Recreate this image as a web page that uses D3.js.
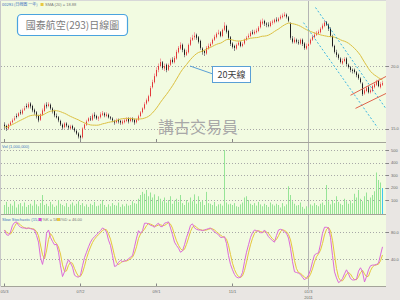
<!DOCTYPE html>
<html>
<head>
<meta charset="utf-8">
<script src="https://cdn.jsdelivr.net/npm/d3@7"></script>
<style>
  html, body { margin: 0; padding: 0; background: #e9e6e3; }
  svg { display: block; font-family: "Liberation Sans", Arial, sans-serif; }
</style>
</head>
<body>
<svg id="chart" width="400" height="300"></svg>
<script>
// daily bars, oldest first (price in HK$)
const opens = [
  15.3,15.2,15.0,15.3,15.5,15.7,16.0,16.0,16.3,16.2, 16.5,16.8,16.7,17.0,16.8,16.5,16.3,16.0,15.7,16.1,
  16.4,16.9,16.8,16.9,16.6,16.4,16.0,15.9,15.6,15.3, 15.1,15.4,15.2,15.0,15.2,15.0,14.8,14.6,14.4,14.3,
  15.0,15.3,15.6,15.8,15.7,16.1,16.0,15.8,15.9,16.1, 16.2,16.0,16.1,15.9,15.8,15.6,15.5,15.7,15.6,15.4,
  15.5,15.6,15.8,15.6,15.8,15.7,15.5,15.7,16.0,16.3, 16.6,17.0,17.2,17.6,18.3,18.7,19.2,19.7,20.0,20.3,
  19.8,20.1,19.7,20.1,20.5,20.3,20.6,21.1,21.4,21.7, 21.3,20.9,21.1,21.7,22.1,22.3,22.5,22.3,22.0,21.4,
  21.2,21.0,21.4,21.6,21.8,22.1,22.3,22.6,22.7,22.4, 22.9,23.2,22.8,22.3,21.8,21.6,21.4,21.7,21.9,21.6,
  21.8,22.1,22.3,22.4,22.7,22.6,22.7,22.8,23.1,23.4, 23.6,23.4,23.3,23.2,23.5,23.5,23.7,23.6,23.8,23.9,
  24.0,24.1,23.9,23.4,22.2,21.9,22.1,21.9,21.8,22.1, 21.8,21.4,21.6,21.8,22.1,22.3,22.5,22.6,22.7,23.0,
  23.2,23.5,23.3,23.0,22.4,21.6,21.1,20.9,20.6,20.2, 20.4,20.6,20.1,19.9,19.7,19.7,19.5,19.3,19.0,18.6,
  17.8,18.0,18.3,17.9,18.0,18.3,18.5,18.8,18.3,18.5
];
const highs = [
  15.5,15.3,15.4,15.6,15.8,16.0,16.2,16.3,16.5,16.6, 16.8,17.0,17.1,17.1,16.9,16.6,16.4,16.1,16.2,16.6,
  17.0,17.1,17.1,17.0,16.7,16.5,16.2,16.0,15.7,15.4, 15.5,15.5,15.3,15.3,15.3,15.1,14.9,14.7,14.5,15.1,
  15.4,15.7,15.9,16.0,16.2,16.3,16.1,16.0,16.3,16.4, 16.3,16.3,16.2,16.0,15.9,15.7,15.8,15.8,15.7,15.7,
  15.8,15.9,15.9,15.9,15.9,15.8,15.8,16.1,16.4,16.7, 17.1,17.4,17.7,18.4,18.9,19.4,19.9,20.2,20.6,20.4,
  20.2,20.2,20.2,20.6,20.7,20.8,21.3,21.6,21.9,21.8, 21.4,21.3,21.8,22.3,22.5,22.7,22.6,22.4,22.1,21.5,
  21.3,21.6,21.8,21.9,22.2,22.5,22.7,22.9,22.8,23.0, 23.5,23.3,22.9,22.4,21.9,21.7,21.8,22.0,22.0,21.9,
  22.2,22.4,22.6,22.8,22.9,22.9,23.0,23.2,23.7,23.8, 23.7,23.5,23.5,23.6,23.7,23.8,23.9,23.9,24.1,24.2,
  24.3,24.2,24.0,23.5,22.4,22.3,22.2,22.1,22.2,22.2, 21.9,21.8,21.9,22.2,22.5,22.7,22.8,22.9,23.1,23.4,
  23.7,23.6,23.4,23.1,22.5,21.7,21.3,21.0,20.7,20.6, 20.7,20.7,20.2,20.0,19.8,19.8,19.6,19.4,19.1,18.7,
  18.2,18.4,18.4,18.2,18.5,18.7,18.9,18.9,18.7,18.8
];
const lows = [
  14.9,14.8,14.9,15.2,15.4,15.6,15.8,15.9,16.1,16.1, 16.4,16.6,16.6,16.6,16.3,16.1,15.8,15.5,15.6,16.0,
  16.3,16.6,16.7,16.5,16.2,15.9,15.8,15.5,15.2,14.9, 15.0,15.1,14.9,14.9,14.9,14.7,14.5,14.2,14.0,14.2,
  14.9,15.2,15.5,15.6,15.6,15.8,15.7,15.6,15.8,16.0, 15.9,15.9,15.8,15.7,15.5,15.3,15.4,15.4,15.3,15.3,
  15.4,15.5,15.4,15.5,15.5,15.3,15.4,15.6,15.9,16.2, 16.5,16.9,17.1,17.5,18.2,18.6,19.1,19.5,19.9,19.7,
  19.6,19.5,19.6,20.0,20.2,20.2,20.5,21.0,21.3,21.1, 20.7,20.8,21.0,21.6,22.0,22.1,22.1,21.8,21.3,20.9,
  20.8,20.9,21.3,21.5,21.7,22.0,22.2,22.5,22.3,22.3, 22.8,22.6,22.1,21.6,21.4,21.2,21.3,21.6,21.5,21.5,
  21.7,22.0,22.2,22.3,22.5,22.5,22.6,22.7,23.0,23.3, 23.2,23.1,23.1,23.1,23.3,23.4,23.5,23.5,23.7,23.8,
  23.9,23.8,23.5,22.1,21.8,21.8,21.8,21.7,21.7,21.6, 21.3,21.3,21.5,21.7,22.0,22.2,22.4,22.5,22.6,22.9,
  23.1,23.2,22.8,22.3,21.5,21.0,20.7,20.5,20.2,20.1, 20.3,20.0,19.8,19.5,19.4,19.4,19.1,18.9,18.6,17.6,
  17.7,17.9,17.8,17.8,17.9,18.2,18.4,18.3,18.2,18.4
];
const closes = [
  15.16,15.00,15.32,15.48,15.65,15.81,15.97,16.21,16.29,16.45, 16.61,16.77,16.94,16.77,16.45,16.29,15.97,15.65,16.13,16.45,
  16.85,16.77,16.94,16.61,16.37,16.05,15.89,15.65,15.32,15.08, 15.40,15.24,15.08,15.16,15.00,14.84,14.60,14.36,14.27,15.00,
  15.32,15.56,15.81,15.73,16.05,15.97,15.81,15.89,16.13,16.21, 16.05,16.13,15.89,15.81,15.65,15.48,15.65,15.56,15.48,15.56,
  15.65,15.73,15.56,15.81,15.65,15.48,15.73,15.97,16.29,16.61, 16.94,17.26,17.58,18.23,18.71,19.19,19.68,20.00,20.32,19.84,
  20.00,19.68,20.08,20.48,20.32,20.65,21.13,21.45,21.69,21.29, 20.89,21.13,21.69,22.10,22.26,22.42,22.26,21.94,21.45,21.13,
  21.05,21.45,21.61,21.77,22.10,22.34,22.58,22.66,22.42,22.90, 23.23,22.74,22.26,21.77,21.53,21.45,21.69,21.86,21.61,21.77,
  22.10,22.26,22.42,22.66,22.58,22.74,22.82,23.07,23.55,23.55, 23.39,23.31,23.23,23.47,23.55,23.71,23.63,23.79,23.95,24.03,
  24.11,23.95,23.63,22.26,21.94,22.10,21.94,21.86,22.10,21.77, 21.45,21.61,21.77,22.10,22.34,22.50,22.66,22.74,22.98,23.23,
  23.47,23.31,22.98,22.42,21.61,21.13,20.89,20.65,20.32,20.40, 20.56,20.16,19.92,19.68,19.60,19.52,19.27,19.03,18.71,17.74,
  18.06,18.23,17.90,18.06,18.39,18.55,18.71,18.39,18.55,18.63
];
// volume, units of 1,000,000 shares as on the axis
const volumes = [
  60,85,45,70,55,90,40,65,75,50,80,45,60,70,55,95,65,50,75,
  140,60,70,50,85,65,45,55,100,70,60,50,75,45,65,80,55,70,90,60,
  75,50,65,45,70,60,85,50,55,70,100,60,45,65,50,75,60,55,80,45,
  65,50,70,55,60,90,75,70,110,140,165,150,180,130,160,120,145,100,130,110,
  90,120,80,100,130,70,95,110,85,140,75,60,100,80,120,90,145,70,130,85,
  95,60,165,75,70,60,85,50,65,70,55,500,80,65,70,60,75,50,45,65,
  80,120,130,100,70,60,75,55,85,65,50,70,60,45,80,65,55,70,60,40,
  75,50,65,210,140,90,70,55,60,80,45,30,50,40,65,55,75,60,50,70,
  80,60,220,90,65,100,75,130,85,70,60,110,90,70,95,75,150,120,180,110,
  90,130,160,100,120,140,170,320,260,240,195
];
// slow stochastic %K (15,3)
const stochK = [
  83,76,75,80,90,94,95,90,87,86, 86,85,86,85,84,83,75,65,42,32,
  46,78,83,72,66,61,62,50,30,14, 21,32,39,34,28,16,14,13,16,30,
  42,50,58,65,70,73,76,79,82,86, 84,80,68,60,45,29,30,35,38,36,
  37,38,40,43,45,58,71,82,78,82, 93,93,92,90,89,87,91,93,88,88,
  93,94,95,86,76,65,60,56,50,52, 61,72,80,90,92,86,84,83,83,82,
  83,84,85,86,83,80,78,76,72,72, 73,63,45,32,24,17,13,12,13,20,
  36,50,61,72,79,83,82,81,79,79, 83,78,73,70,67,65,75,83,84,83,
  80,78,71,56,36,21,20,19,17,13, 9,12,16,24,36,46,48,49,62,78,
  87,87,86,72,45,21,12,5,7,11, 18,24,18,11,9,9,10,22,27,21,
  6,14,24,30,31,31,32,34,46,58
];

const tickIdx = [0, 38, 76, 114, 152];
const tickLabels = ['05/3', '07/2', '09/1', '11/1', '01/3'];
const yearMarks = [{ idx: 152, label: '2011' }];

const priceTicks = [15, 20];
const volTicks = [100, 200, 300, 400, 500];
const stochTicks = [40, 80];

// hand drawn trend lines: [barIndex1, price1, barIndex2, price2]
const channelDown = [[149.5, 23.47, 186.5, 15.08], [155.5, 24.68, 192, 16.29]];
const channelUp = [[173, 17.66, 192, 19.27], [175.5, 16.61, 192, 17.90]];

const MA_WINDOW = 20;
const UP = '#e23a3a', UP_WICK = '#f2a0a0', DOWN = '#1e1e1e', DOWN_WICK = '#8a8a8a';
const BG = '#f2fbe1', GRID = '#a8a8a8', AXIS_TXT = '#666', HEAD_BLUE = '#3f72c0';

const svg = d3.select('#chart');
const L = 1, R = 386;
const PANELS = {
  price: { top: 1, bottom: 142 },
  vol: { top: 142, bottom: 214.5 },
  stoch: { top: 214.5, bottom: 286.5 }
};

const n = closes.length;
const xs = d3.scaleLinear().domain([0, n - 1]).range([4.5, 382.5]);
const yPrice = d3.scaleLinear().domain([15, 20]).range([128.5, 66]);
const yVol = d3.scaleLinear().domain([0, 500]).range([212.5, 150]);
const yStoch = d3.scaleLinear().domain([40, 80]).range([259, 232]);

const ma = closes.map((c, i) => d3.mean(closes.slice(Math.max(0, i - MA_WINDOW + 1), i + 1)));
const stochD = stochK.map((k, i) => d3.mean(stochK.slice(Math.max(0, i - 2), i + 1)));

svg.append('rect').attr('width', 400).attr('height', 300).attr('fill', '#e9e6e3');
svg.append('rect').attr('x', L).attr('y', 1).attr('width', R - L).attr('height', PANELS.stoch.bottom - 1).attr('fill', BG);

const defs = svg.append('defs');
Object.entries(PANELS).forEach(([key, p]) => {
  defs.append('clipPath').attr('id', `clip-${key}`)
    .append('rect').attr('x', L).attr('y', p.top).attr('width', R - L).attr('height', p.bottom - p.top);
});

function gridAndAxis(panel, scale, ticks, fmt) {
  const g = svg.append('g');
  g.selectAll('line.grid').data(ticks).join('line')
    .attr('x1', L).attr('x2', R)
    .attr('y1', d => Math.round(scale(d)) + 0.5).attr('y2', d => Math.round(scale(d)) + 0.5)
    .attr('stroke', GRID).attr('stroke-dasharray', '1,2');
  g.selectAll('line.tick').data(ticks).join('line')
    .attr('x1', R).attr('x2', R + 3)
    .attr('y1', d => Math.round(scale(d)) + 0.5).attr('y2', d => Math.round(scale(d)) + 0.5)
    .attr('stroke', '#888');
  g.selectAll('text').data(ticks).join('text')
    .attr('x', R + 5).attr('y', d => scale(d) + 1.5)
    .attr('font-size', 4).attr('fill', AXIS_TXT)
    .text(fmt);
  // bottom ticks of each panel
  g.selectAll('line.xt').data(tickIdx).join('line')
    .attr('x1', i => xs(i)).attr('x2', i => xs(i))
    .attr('y1', panel.bottom - 3).attr('y2', panel.bottom)
    .attr('stroke', '#888');
}
gridAndAxis(PANELS.price, yPrice, priceTicks, d3.format('.1f'));
gridAndAxis(PANELS.vol, yVol, volTicks, d3.format('d'));
gridAndAxis(PANELS.stoch, yStoch, stochTicks, d3.format('.1f'));

// year separator
svg.append('line')
  .attr('x1', xs(yearMarks[0].idx)).attr('x2', xs(yearMarks[0].idx))
  .attr('y1', 1).attr('y2', PANELS.stoch.bottom + 3)
  .attr('stroke', '#b4b4b4');

// ---- price panel
const gp = svg.append('g').attr('clip-path', 'url(#clip-price)');
const idx = d3.range(n);
const isUp = i => closes[i] >= opens[i];
gp.selectAll('line.wick').data(idx).join('line')
  .attr('x1', i => xs(i)).attr('x2', i => xs(i))
  .attr('y1', i => yPrice(highs[i])).attr('y2', i => yPrice(lows[i]))
  .attr('stroke', i => isUp(i) ? UP_WICK : DOWN_WICK);
gp.selectAll('rect.body').data(idx).join('rect')
  .attr('x', i => xs(i) - 0.5).attr('width', 1)
  .attr('y', i => yPrice(Math.max(opens[i], closes[i])))
  .attr('height', i => Math.max(1, Math.abs(yPrice(opens[i]) - yPrice(closes[i]))))
  .attr('fill', i => isUp(i) ? UP : DOWN);

gp.append('path').datum(ma)
  .attr('d', d3.line().x((d, i) => xs(i)).y(d => yPrice(d)))
  .attr('fill', 'none').attr('stroke', '#dcc040').attr('stroke-width', 1);

gp.selectAll('line.chDown').data(channelDown).join('line')
  .attr('x1', d => xs(d[0])).attr('y1', d => yPrice(d[1]))
  .attr('x2', d => xs(d[2])).attr('y2', d => yPrice(d[3]))
  .attr('stroke', '#3cb6e2').attr('stroke-dasharray', '2,2');
gp.selectAll('line.chUp').data(channelUp).join('line')
  .attr('x1', d => xs(d[0])).attr('y1', d => yPrice(d[1]))
  .attr('x2', d => xs(d[2])).attr('y2', d => yPrice(d[3]))
  .attr('stroke', '#e0644e');

// header + annotations
svg.append('text').attr('x', 2).attr('y', 6).attr('font-size', 4).attr('fill', HEAD_BLUE)
  .style('font-family', '"Noto Sans CJK TC", sans-serif').text('00293 (日線圖 一年)');
svg.append('rect').attr('x', 40.5).attr('y', 3).attr('width', 3).attr('height', 3).attr('fill', '#e8c840');
svg.append('text').attr('x', 45).attr('y', 6).attr('font-size', 4).attr('fill', '#777')
  .text(`SMA (${MA_WINDOW}) = ${ma[n - 1].toFixed(2)}`);

svg.append('rect').attr('x', 17.5).attr('y', 14.5).attr('width', 110).attr('height', 21).attr('rx', 4)
  .attr('fill', '#fff').attr('stroke', '#4aa3df').attr('stroke-width', 1.2);
svg.append('text').attr('x', 72.5).attr('y', 29).attr('text-anchor', 'middle')
  .attr('font-size', 10).attr('fill', '#7c7c7c')
  .style('font-family', '"Noto Sans CJK TC", sans-serif').text('國泰航空(293)日線圖');

svg.append('text').attr('x', 158).attr('y', 133)
  .attr('font-size', 16).attr('fill', '#a8a8a8')
  .style('font-family', '"Noto Sans CJK TC", sans-serif').text('講古交易員');

svg.append('line').attr('x1', 190).attr('y1', 66).attr('x2', 213).attr('y2', 74)
  .attr('stroke', '#5a9fd6');
svg.append('rect').attr('x', 212.5).attr('y', 66.5).attr('width', 38).attr('height', 16)
  .attr('fill', '#fff').attr('stroke', '#5a9fd6');
svg.append('text').attr('x', 231.5).attr('y', 78).attr('text-anchor', 'middle')
  .attr('font-size', 9).attr('fill', '#404040')
  .style('font-family', '"Noto Sans CJK TC", sans-serif').text('20天線');

// ---- volume panel
const gv = svg.append('g').attr('clip-path', 'url(#clip-vol)');
gv.selectAll('rect').data(volumes).join('rect')
  .attr('x', (d, i) => xs(i) - 0.5).attr('width', 1)
  .attr('y', d => yVol(d)).attr('height', d => PANELS.vol.bottom - yVol(d))
  .attr('fill', (d, i) => i === n - 1 ? '#3ec6ee' : '#96e496');
svg.append('text').attr('x', 2).attr('y', 148).attr('font-size', 4).attr('fill', HEAD_BLUE).text('Vol (1,000,000)');

// ---- stochastic panel
const gs = svg.append('g').attr('clip-path', 'url(#clip-stoch)');
const stochLine = d3.line().x((d, i) => xs(i)).y(d => yStoch(d));
gs.append('path').datum(stochD).attr('d', stochLine).attr('fill', 'none').attr('stroke', '#e6c63c');
gs.append('path').datum(stochK).attr('d', stochLine).attr('fill', 'none').attr('stroke', '#dc6ad8');
svg.append('text').attr('x', 2).attr('y', 221).attr('font-size', 4).attr('fill', HEAD_BLUE).text('Slow Stochastic (15,3)');
svg.append('rect').attr('x', 38.5).attr('y', 218).attr('width', 3).attr('height', 3).attr('fill', '#d84ad8');
svg.append('text').attr('x', 42.5).attr('y', 221).attr('font-size', 4).attr('fill', '#777').text(`%K = ${stochK[n - 1].toFixed(1)}`);
svg.append('rect').attr('x', 57).attr('y', 218).attr('width', 3).attr('height', 3).attr('fill', '#e8c840');
svg.append('text').attr('x', 61).attr('y', 221).attr('font-size', 4).attr('fill', '#777').text(`%D = ${stochD[n - 1].toFixed(2)}`);

// panel borders
[PANELS.price.bottom, PANELS.vol.bottom, PANELS.stoch.bottom].forEach(y => {
  svg.append('line').attr('x1', L).attr('x2', R).attr('y1', Math.floor(y) + 0.5).attr('y2', Math.floor(y) + 0.5)
    .attr('stroke', '#a4a49a');
});
svg.append('line').attr('x1', 0.5).attr('x2', 0.5).attr('y1', 0).attr('y2', PANELS.stoch.bottom).attr('stroke', '#c8c8c8');
svg.append('line').attr('x1', 0).attr('x2', R).attr('y1', 0.5).attr('y2', 0.5).attr('stroke', '#d8d8d8');

// x axis labels
svg.selectAll('text.xl').data(tickIdx).join('text')
  .attr('x', i => xs(i)).attr('y', 293).attr('text-anchor', 'middle')
  .attr('font-size', 4).attr('fill', AXIS_TXT)
  .text((d, k) => tickLabels[k]);
svg.selectAll('text.yr').data(yearMarks).join('text')
  .attr('x', d => xs(d.idx)).attr('y', 298.5).attr('text-anchor', 'middle')
  .attr('font-size', 4).attr('fill', AXIS_TXT).text(d => d.label);
</script>
</body>
</html>
